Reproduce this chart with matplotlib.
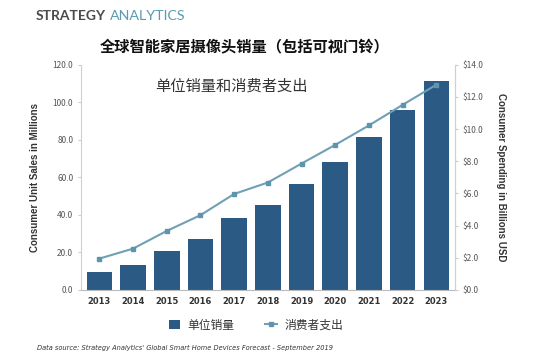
import numpy as np
import matplotlib.pyplot as plt

plt.rcParams['font.family'] = ['Noto Sans CJK SC', 'DejaVu Sans']

# 数据
years = ['2013', '2014', '2015', '2016', '2017', '2018', '2019', '2020', '2021', '2022', '2023']
unit_sales = [9.6, 13.3, 20.8, 27.2, 38.2, 45.1, 56.3, 68.1, 81.3, 95.8, 111.5]
spending = [1.95, 2.57, 3.67, 4.65, 5.97, 6.68, 7.86, 9.02, 10.23, 11.51, 12.76]
left_ticks = [0, 20, 40, 60, 80, 100, 120]
right_ticks = [0, 2, 4, 6, 8, 10, 12, 14]

bar_color = '#2b5b84'
line_color = '#6fa0b4'

fig = plt.figure(figsize=(5.5, 3.62), dpi=100)
ax = fig.add_axes([0.147, 0.199, 0.68, 0.622])
ax2 = ax.twinx()

x = np.arange(len(years))
ax.bar(x, unit_sales, width=0.76, color=bar_color, label='单位销量', zorder=2)
ax2.plot(x, spending, color=line_color, lw=1.5, marker='s', ms=3.5,
         mfc='#5e95ad', mec='#5e95ad', label='消费者支出', zorder=3)

ax.set_xlim(-0.55, len(years) - 0.45)
ax.set_ylim(0, 120)
ax2.set_ylim(0, 14)
ax.set_yticks(left_ticks)
ax.set_yticklabels([f'{v:.1f}' for v in left_ticks])
ax2.set_yticks(right_ticks)
ax2.set_yticklabels([f'${v:.1f}' for v in right_ticks])
ax.set_xticks(x)
ax.set_xticklabels(years, fontsize=6, fontweight='bold', color='#333333',
                   family='DejaVu Sans')

for a in (ax, ax2):
    for s in a.spines.values():
        s.set_color('#d0d0d0')
    a.spines['top'].set_visible(False)
    a.tick_params(axis='y', labelsize=6, colors='#555555', length=2, color='#cccccc')
ax.spines['bottom'].set_color('#bbbbbb')
ax.tick_params(axis='x', length=0, pad=5)
ax2.spines['left'].set_visible(False)
ax2.spines['bottom'].set_visible(False)

ax.set_ylabel('Consumer Unit Sales in Millions', fontsize=7, fontweight='bold',
              color='#333333', family='Liberation Sans', labelpad=9)
ax2.set_ylabel('Consumer Spending in Billions USD', fontsize=7, fontweight='bold',
               color='#333333', family='Liberation Sans', rotation=270, labelpad=16)

# 标题
fig.text(0.064, 0.955, 'STRATEGY', fontsize=10, color='#4a4a4a', fontweight='bold',
         family='Lato', va='center')
fig.text(0.2, 0.955, 'ANALYTICS', fontsize=10.3, color='#5a9bb0',
         family='Lato', va='center')
fig.text(0.445, 0.868, '全球智能家居摄像头销量（包括可视门铃）', fontsize=11,
         fontweight='bold', ha='center', va='center', color='#111111')
ax.text(0.2, 0.905, '单位销量和消费者支出', transform=ax.transAxes, fontsize=11,
        ha='left', va='center', color='#333333')

h1, l1 = ax.get_legend_handles_labels()
h2, l2 = ax2.get_legend_handles_labels()
fig.legend(h1 + h2, l1 + l2, loc='center', bbox_to_anchor=(0.465, 0.102), ncol=2,
           frameon=False, fontsize=8.5, handlelength=1.0, handletextpad=0.6,
           columnspacing=2.6, labelcolor='#333333')

fig.text(0.067, 0.04, "Data source: Strategy Analytics' Global Smart Home Devices Forecast - September 2019",
         fontsize=4.75, style='italic', color='#333333', family='DejaVu Sans', va='center')

fig.savefig('out.png', dpi=100, facecolor='white')
